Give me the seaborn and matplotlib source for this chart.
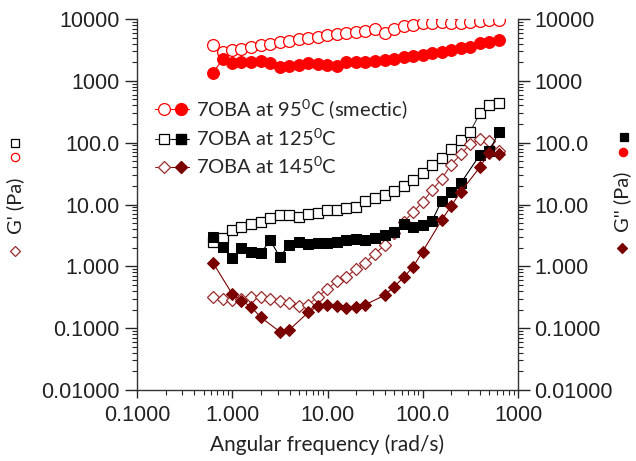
import matplotlib
matplotlib.use("Agg")
import matplotlib.pyplot as plt
import seaborn as sns
from matplotlib.lines import Line2D
from matplotlib.legend_handler import HandlerTuple
from matplotlib.ticker import LogLocator, FuncFormatter, NullFormatter, FixedLocator

# angular frequency sweep (rad/s)
freq = [0.628, 0.791, 0.996, 1.25, 1.58, 1.99, 2.50, 3.15, 3.97, 5.00, 6.28,
        7.91, 9.96, 12.5, 15.8, 19.9, 25.0, 31.5, 39.7, 50.0, 62.8, 79.1,
        99.6, 125, 158, 199, 250, 315, 397, 500, 628]

# 95 C (smectic)
g1_95 = [3800, 2950, 3100, 3300, 3550, 3750, 3950, 4200, 4450, 4700, 4950,
         5200, 5500, 5700, 5950, 6200, 6450, 6800, 6000, 6800, 7600, 8000,
         8500, 8700, 9000, 8700, 8700, 9000, 9300, 9600, 9650]
g2_95 = [1350, 2220, 1920, 1990, 2040, 2110, 1920, 1650, 1740, 1800, 1920,
         1850, 1800, 1750, 2000, 2040, 2040, 2090, 2170, 2230, 2400, 2520,
         2610, 2790, 2960, 3150, 3350, 3560, 4040, 4300, 4550]

# 125 C
g1_125 = [2.5, 2.9, 3.9, 4.4, 4.9, 5.3, 6.0, 6.7, 6.7, 6.3, 7.0,
          7.4, 8.1, 8.3, 8.9, 9.2, 11.5, 12.8, 14.0, 16.5, 20.0, 25.0,
          32, 43, 57, 78, 110, 150, 298, 406, 443]
freq_g2_125 = [0.628, 0.791, 0.996, 1.25, 1.58, 1.99, 2.50, 3.15, 3.97, 5.00,
               6.28, 7.91, 9.96, 12.5, 15.8, 19.9, 25.0, 31.5, 39.7, 50.0,
               62.8, 79.1, 99.6, 125, 158, 199, 250, 397, 500, 628]
g2_125 = [2.94, 2.07, 1.34, 1.95, 1.72, 1.62, 2.65, 1.43, 2.2, 2.49,
          2.3, 2.35, 2.4, 2.5, 2.7, 2.8, 2.65, 2.85, 3.2, 3.6,
          4.9, 4.3, 4.6, 5.4, 11.5, 16, 22, 63, 73, 147]

# 145 C
g1_145 = [0.32, 0.30, 0.29, 0.30, 0.32, 0.32, 0.30, 0.28, 0.26, 0.23, 0.24,
          0.32, 0.43, 0.57, 0.68, 0.9, 1.15, 1.6, 2.2, 3.4, 5.2, 7.5,
          11, 17, 26, 44, 65, 95, 113, 107, 72]
freq_g2_145 = [0.628, 0.996, 1.25, 1.58, 1.99, 3.15, 3.97, 6.28, 7.91, 9.96,
               12.5, 15.8, 19.9, 25.0, 39.7, 50.0, 62.8, 79.1, 99.6, 158,
               199, 250, 397, 500, 628]
g2_145 = [1.14, 0.36, 0.28, 0.22, 0.15, 0.088, 0.094, 0.18, 0.23, 0.24,
          0.23, 0.21, 0.22, 0.24, 0.34, 0.47, 0.66, 0.98, 1.73, 5.6,
          9.5, 16, 40, 69, 65]

labels = ["7OBA at 95$^{\\mathrm{0}}$C (smectic)",
          "7OBA at 125$^{\\mathrm{0}}$C",
          "7OBA at 145$^{\\mathrm{0}}$C"]

major_ticks = [0.01, 0.1, 1, 10, 100, 1000, 10000]
x_ticks = [0.1, 1, 10, 100, 1000]

RED = "#ff0000"
BLACK = "#000000"
DRED = "#7a0000"
DRED_OPEN = "#9a2a2a"

sns.set_style("ticks")
plt.rcParams['font.family'] = ['Lato', 'DejaVu Sans']
plt.rcParams['mathtext.fontset'] = 'custom'
plt.rcParams['mathtext.rm'] = 'Lato'
plt.rcParams['axes.edgecolor'] = '#333333'
plt.rcParams['axes.linewidth'] = 1.0

W, H = 636, 461
fig = plt.figure(figsize=(W / 100, H / 100), dpi=100)
ax = fig.add_axes([137 / W, 1 - 390 / H, (518 - 137) / W, (390 - 19) / H])
ax2 = ax.twinx()

# G' on the left axis (open markers)
sns.lineplot(x=freq, y=g1_95, ax=ax, color=RED, marker='o', markersize=8.5,
             markerfacecolor='white', markeredgecolor=RED, markeredgewidth=0.9,
             linewidth=0.8)
sns.lineplot(x=freq, y=g1_125, ax=ax, color='#333333', marker='s', markersize=7.5,
             markerfacecolor='white', markeredgecolor=BLACK, markeredgewidth=0.9,
             linewidth=0.8)
sns.lineplot(x=freq, y=g1_145, ax=ax, color=DRED_OPEN, marker='D', markersize=6.5,
             markerfacecolor='white', markeredgecolor=DRED_OPEN, markeredgewidth=0.9,
             linewidth=0.8)

# G'' on the right axis (filled markers)
sns.lineplot(x=freq, y=g2_95, ax=ax2, color=RED, marker='o', markersize=8.5,
             markeredgecolor=RED, linewidth=0.8)
sns.lineplot(x=freq_g2_125, y=g2_125, ax=ax2, color=BLACK, marker='s', markersize=7.5,
             markeredgecolor=BLACK, linewidth=0.8)
sns.lineplot(x=freq_g2_145, y=g2_145, ax=ax2, color=DRED, marker='D', markersize=6.5,
             markeredgecolor=DRED, linewidth=0.8)


def fmt(v, pos):
    if v >= 1000:
        return "%d" % round(v)
    return "{:#.4g}".format(v)


for a in (ax, ax2):
    a.set_xscale('log')
    a.set_yscale('log')
    a.set_xlim(0.1, 1000)
    a.set_ylim(0.01, 10000)
    a.yaxis.set_major_locator(FixedLocator(major_ticks))
    a.yaxis.set_minor_locator(LogLocator(base=10, subs=range(2, 10), numticks=12))
    a.yaxis.set_major_formatter(FuncFormatter(fmt))
    a.yaxis.set_minor_formatter(NullFormatter())
    a.spines['top'].set_visible(False)
    a.set_ylabel('')

ax.xaxis.set_major_locator(FixedLocator(x_ticks))
ax.xaxis.set_minor_locator(LogLocator(base=10, subs=range(2, 10), numticks=12))
ax.xaxis.set_major_formatter(FuncFormatter(fmt))
ax.xaxis.set_minor_formatter(NullFormatter())
ax.spines['right'].set_visible(False)
ax2.spines['left'].set_visible(False)
ax2.spines['bottom'].set_visible(False)

ax.tick_params(axis='y', which='major', length=8.5, width=1, pad=4, labelsize=15.5)
ax.tick_params(axis='y', which='minor', length=3.5, width=0.8)
ax2.tick_params(axis='y', which='major', length=8.5, width=1, pad=3, labelsize=15.5)
ax2.tick_params(axis='y', which='minor', length=3.5, width=0.8)
ax.tick_params(axis='x', which='major', length=6, width=1, pad=5, labelsize=15.5)
ax.tick_params(axis='x', which='minor', length=3.5, width=0.8)
for lab in ax.get_xticklabels() + ax.get_yticklabels() + ax2.get_yticklabels():
    lab.set_fontfamily('Liberation Sans')
    lab.set_color('#222222')

ax.set_xlabel("Angular frequency (rad/s)", fontsize=15, labelpad=6, color='#222222')

# legend with open + filled marker pairs
def pair(color_open, color_fill, mk, ms, lcol):
    ho = Line2D([], [], color=lcol, marker=mk, markersize=ms, markerfacecolor='white',
                markeredgecolor=color_open, markeredgewidth=0.9, linewidth=0.8)
    hf = Line2D([], [], color=color_fill, marker=mk, markersize=ms,
                markeredgecolor=color_fill, linewidth=0.8)
    return (ho, hf)


handles = [pair(RED, RED, 'o', 8.5, RED),
           pair(BLACK, BLACK, 's', 7.5, '#333333'),
           pair(DRED_OPEN, DRED, 'D', 6.5, DRED_OPEN)]
ax.legend(handles=handles, labels=labels,
          handler_map={tuple: HandlerTuple(ndivide=None, pad=0)},
          loc='upper left', bbox_to_anchor=(155 / W, 1 - 97 / H),
          bbox_transform=fig.transFigure, frameon=False, fontsize=14.5,
          handlelength=1.7, handletextpad=0.35, labelspacing=0.28,
          borderpad=0, borderaxespad=0)


def fpt(xp, yp):
    return xp / W, 1 - yp / H


def sym(xp, yp, mk, col, filled, ms=5.5):
    fx, fy = fpt(xp, yp)
    fig.add_artist(Line2D([fx], [fy], transform=fig.transFigure, marker=mk,
                          markersize=ms, linestyle='none',
                          markerfacecolor=col if filled else 'white',
                          markeredgecolor=col, markeredgewidth=0.9))


# left axis title: G' (Pa) with open symbols
fig.text(*fpt(15, 206), "G' (Pa)", rotation=90, ha='center', va='center',
         fontsize=14.5, color='#222222')
sym(15, 251, 'D', DRED_OPEN, False, 5)
sym(15, 157, 'o', RED, False, 6)
sym(15, 143, 's', BLACK, False, 5.5)

# right axis title: G'' (Pa) with filled symbols
fig.text(*fpt(622, 202), "G'' (Pa)", rotation=90, ha='center', va='center',
         fontsize=14.5, color='#222222')
sym(622, 248, 'D', DRED, True, 5)
sym(623, 152, 'o', RED, True, 6)
sym(624, 137, 's', BLACK, True, 5.5)

fig.savefig("out.png", dpi=100)
